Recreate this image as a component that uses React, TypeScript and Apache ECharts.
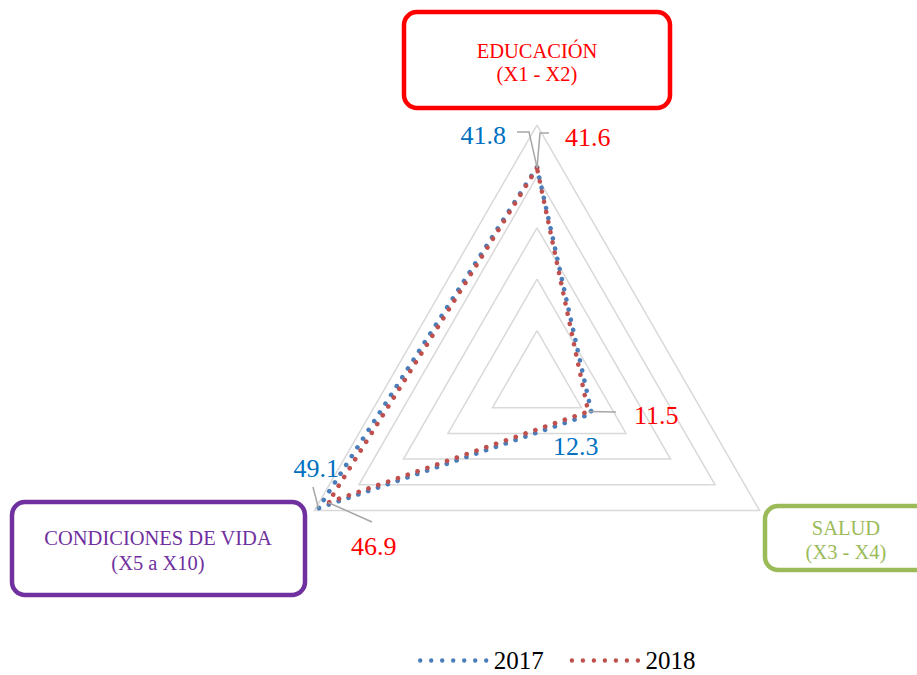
import React, { useEffect, useRef } from "react";
import * as echarts from "echarts";

const indicators = ["EDUCACIÓN", "CONDICIONES DE VIDA", "SALUD"];
const indicatorSub = ["(X1 - X2)", "(X5 a X10)", "(X3 - X4)"];
const seriesNames = ["2017", "2018"];
const values2017 = [41.8, 49.1, 12.3];
const values2018 = [41.6, 46.9, 11.5];
const maxValue = 50;

const FONT = "Liberation Serif";
const BLUE = "#4a7ebb";
const RED = "#c0504d";
const LBL_BLUE = "#0070c0";
const LBL_RED = "#ff0000";
const GRAY = "#a6a6a6";

const CX = 537;
const CY = 382;
const R = 257;

function pt(i: number, v: number): [number, number] {
  const a = ((90 + 120 * i) * Math.PI) / 180;
  const r = (v / maxValue) * R;
  return [CX + r * Math.cos(a), CY - r * Math.sin(a)];
}

function dotsPath(n: number, gap: number, rad: number) {
  let d = "path://";
  for (let k = 0; k < n; k++) {
    const x = k * gap;
    d += `M${x},${rad} a${rad},${rad} 0 1,0 ${2 * rad},0 a${rad},${rad} 0 1,0 ${-2 * rad},0 `;
  }
  return d;
}

export default function App() {
  const ref = useRef<HTMLDivElement>(null);
  useEffect(() => {
    if (!ref.current) return;
    const chart = echarts.init(ref.current, undefined, { renderer: "svg" });

    const p17 = values2017.map((v, i) => pt(i, v));
    const p18 = values2018.map((v, i) => pt(i, v));

    const leader = (pts: number[][]) => ({
      type: "polyline",
      shape: { points: pts },
      style: { stroke: GRAY, lineWidth: 1.5, fill: "none" },
      z: 100,
    });

    const valText = (x: number, y: number, text: string, color: string, align: string) => ({
      type: "text",
      x,
      y,
      style: {
        text,
        fill: color,
        fontFamily: FONT,
        fontSize: 26,
        align,
        verticalAlign: "middle",
      },
      z: 100,
    });

    const box = (x: number, y: number, w: number, h: number, color: string, title: string, sub: string, tx: number, ty: number, lh: number) => [
      {
        type: "rect",
        shape: { x, y, width: w, height: h, r: 13 },
        style: { fill: "#fff", stroke: color, lineWidth: 4.5 },
        z: 100,
      },
      {
        type: "text",
        x: tx,
        y: ty,
        style: {
          text: title + "\n" + sub,
          fill: color,
          fontFamily: FONT,
          fontSize: 20.5,
          align: "center",
          verticalAlign: "middle",
          lineHeight: lh,
        },
        z: 101,
      },
    ];

    const graphics: any[] = [
      ...box(404, 12, 266, 96, "#ff0000", indicators[0], indicatorSub[0], 537, 62, 23),
      ...box(12, 502, 293, 93, "#7030a0", indicators[1], indicatorSub[1], 158, 550, 25),
      ...box(765, 506, 170, 64, "#9bbb59", indicators[2], indicatorSub[2], 846, 540, 24),
      leader([p17[0], [529, 132], [517, 132]]),
      leader([p18[0], [540, 133], [549, 133]]),
      valText(506, 135, String(values2017[0]), LBL_BLUE, "right"),
      valText(565, 137, String(values2018[0]), LBL_RED, "left"),
      leader([p17[1], [313, 487]]),
      leader([p18[1], [372, 522]]),
      valText(339, 468, String(values2017[1]), LBL_BLUE, "right"),
      valText(351, 546, String(values2018[1]), LBL_RED, "left"),
      leader([p18[2], [616, 412]]),
      valText(634, 415, String(values2018[2]), LBL_RED, "left"),
      valText(553, 446, String(values2017[2]), LBL_BLUE, "left"),
    ];

    const dotted = (color: string) => ({ color, width: 4.6, type: [0.1, 10.3], cap: "round" });

    chart.setOption({
      animation: false,
      backgroundColor: "#fff",
      legend: {
        data: seriesNames,
        left: 413,
        top: 643,
        itemWidth: 71,
        itemHeight: 4.4,
        itemGap: 26,
        icon: dotsPath(7, 11, 2.2),
        textStyle: { fontFamily: FONT, fontSize: 25, color: "#000" },
      },
      radar: {
        center: [CX, CY],
        radius: R,
        shape: "polygon",
        splitNumber: 5,
        startAngle: 90,
        indicator: indicators.map((n) => ({ name: n, max: maxValue, min: 0 })),
        axisName: { show: false },
        axisLine: { show: false },
        axisTick: { show: false },
        axisLabel: { show: false },
        splitArea: { show: false },
        splitLine: { lineStyle: { color: "#d9d9d9", width: 1.5 } },
      },
      series: [
        {
          type: "radar",
          symbol: "none",
          data: [
            {
              name: seriesNames[0],
              value: values2017,
              lineStyle: dotted(BLUE),
              itemStyle: { color: BLUE },
            },
            {
              name: seriesNames[1],
              value: values2018,
              lineStyle: dotted(RED),
              itemStyle: { color: RED },
            },
          ],
        },
      ],
      graphic: graphics,
    });
    return () => chart.dispose();
  }, []);
  return <div ref={ref} style={{ width: 917, height: 675, position: "absolute", left: 0, top: 0 }} />;
}
